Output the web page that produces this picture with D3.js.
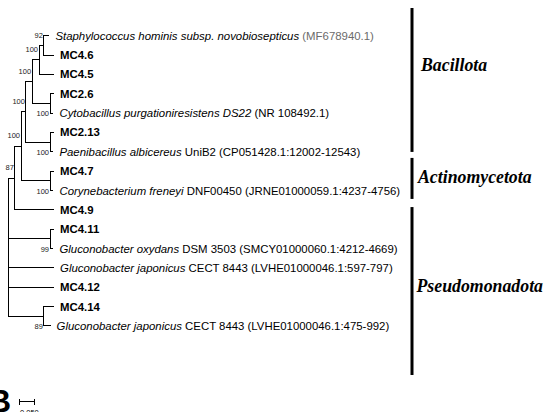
<!DOCTYPE html>
<html><head><meta charset="utf-8">
<script src="https://cdn.jsdelivr.net/npm/d3@7"></script>
<style>html,body{margin:0;padding:0;background:#fff;overflow:hidden} text{white-space:pre}</style>
</head><body><svg id="c" width="546" height="412"></svg>
<script>
// ---- data: tree as parent table ----
const nodeIds = ["root","n87","n100d","n100c","n100b","n100a","n92","staph","MC4.6","MC4.5","n26","MC2.6","cyto","n213","MC2.13","paeni","n47","MC4.7","coryne","MC4.9","n411","MC4.11","oxydans","jap597","MC4.12","n89","MC4.14","jap475"];
const parentIds = ["","root","n87","n100d","n100c","n100b","n100a","n92","n92","n100a","n100b","n26","n26","n100c","n213","n213","n100d","n47","n47","n87","root","n411","n411","root","root","root","n89","n89"];
const branchLengths = [0,0.024,0.021,0.017,0.021,0.024,0.017,0.017,0.033,0.050,0.062,0.012,0.010,0.083,0.012,0.010,0.100,0.012,0.010,0.133,0.145,0.012,0.010,0.157,0.157,0.124,0.033,0.021];
const bootstrap = [null,87,100,100,100,100,92,null,null,null,100,null,null,100,null,null,100,null,null,null,99,null,null,null,null,89,null,null];

// reference sequences: taxon name (italic) + strain / accession (plain)
const refIds   = ["staph","cyto","paeni","coryne","oxydans","jap597","jap475"];
const refTaxa  = ["Staphylococcus hominis subsp. novobiosepticus","Cytobacillus purgationiresistens DS22","Paenibacillus albicereus","Corynebacterium freneyi","Gluconobacter oxydans","Gluconobacter japonicus","Gluconobacter japonicus"];
const refNotes = [" (MF678940.1)"," (NR 108492.1)"," UniB2 (CP051428.1:12002-12543)"," DNF00450 (JRNE01000059.1:4237-4756)"," DSM 3503 (SMCY01000060.1:4212-4669)"," CECT 8443 (LVHE01000046.1:597-797)"," CECT 8443 (LVHE01000046.1:475-992)"];

const cladeNames = ["Bacillota","Actinomycetota","Pseudomonadota"];
const scaleBarValue = 0.05;
const scaleBarLabel = "0.050";

// ---- layout ----
const svg = d3.select("#c");
const rows = d3.range(nodeIds.length).map(i => ({id:nodeIds[i], parent:parentIds[i], len:branchLengths[i], bs:bootstrap[i]}));
const root = d3.stratify().id(d=>d.id).parentId(d=>d.parent||null)(rows);

const x = d3.scaleLinear().domain([0, 0.05]).range([8, 22.5]);
const y = d3.scaleLinear().domain([1, 14]).range([55, 306.5]);

root.each(n => { n.depthLen = (n.parent ? n.parent.depthLen : 0) + n.data.len; });
root.leaves().forEach((l,i) => { l.row = i; });
root.eachAfter(n => {
  if (n.children) n.yy = (n.children[0].yy + n.children[n.children.length-1].yy)/2;
  else n.yy = y(n.row);
  n.xx = x(n.depthLen);
});

const g = svg.append("g");
const lines = [];
root.each(n => {
  if (n.parent) lines.push([n.parent.xx, n.yy, n.xx, n.yy]);
  if (n.children) lines.push([n.xx, n.children[0].yy, n.xx, n.children[n.children.length-1].yy]);
});
g.selectAll("line.br").data(lines).join("line").attr("class","br")
  .attr("x1",d=>d[0]).attr("y1",d=>d[1]).attr("x2",d=>d[2]).attr("y2",d=>d[3])
  .attr("stroke","#000").attr("stroke-width",1).attr("stroke-linecap","square").attr("shape-rendering","crispEdges");

// leaf labels
const refIndex = new Map(refIds.map((id,i)=>[id,i]));
root.leaves().forEach(l => {
  const t = g.append("text").attr("x", l.xx + 6.5).attr("y", l.yy).attr("dy","0.36em")
    .attr("font-family","'Liberation Sans', Arial, sans-serif").attr("font-size",11.4).attr("fill","#000");
  if (refIndex.has(l.id)) {
    const k = refIndex.get(l.id);
    t.append("tspan").attr("font-style","italic").text(refTaxa[k]);
    t.append("tspan").attr("fill", l.id==="staph" ? "#6b6b6b" : "#000").text(refNotes[k]);
  } else {
    t.attr("font-weight","bold").text(l.id);
  }
});

// bootstrap values
const belowNodes = new Set(["n26","n213","n47","n411","n89"]);
root.descendants().filter(n=>n.data.bs!=null).forEach(n => {
  const below = belowNodes.has(n.id);
  g.append("text").attr("x", n.xx - 1)
    .attr("y", below ? n.children[n.children.length-1].yy + 0.5 : n.yy - 10.5)
    .attr("dy","0.36em").attr("text-anchor","end")
    .attr("font-family","'Liberation Sans', Arial, sans-serif").attr("font-size",7.5).attr("fill","#222")
    .text(n.data.bs);
});

// clade bars (spans in row units)
const cladeSpans = [[-1.43, 6.01], [6.32, 8.44], [8.86, 17.54]];
const cladeLabelRows = [1.52, 7.3, 12.94];
const barX = 412;
cladeNames.forEach((name,i) => {
  svg.append("line").attr("x1",barX).attr("x2",barX)
    .attr("y1", y(cladeSpans[i][0])).attr("y2", y(cladeSpans[i][1]))
    .attr("stroke","#000").attr("stroke-width",3);
  svg.append("text").attr("x", barX + (i===0?9:(i===1?6:4.5))).attr("y", y(cladeLabelRows[i])).attr("dy","0.35em")
    .attr("font-family","'Liberation Serif','Times New Roman',serif").attr("font-weight","bold").attr("font-style","italic")
    .attr("font-size",17.8).attr("fill","#000").text(name);
});

// scale bar
const sbX = 19.5, sbY = 401.5, sbW = x(scaleBarValue) - x(0);
svg.append("path").attr("d", `M${sbX},${sbY}H${sbX+sbW}M${sbX},${sbY-3}V${sbY+3}M${sbX+sbW},${sbY-3}V${sbY+3}`)
  .attr("stroke","#000").attr("stroke-width",1).attr("fill","none").attr("shape-rendering","crispEdges");
svg.append("text").attr("x", sbX + 0.5).attr("y", 415).attr("font-family","'Liberation Sans', Arial, sans-serif")
  .attr("font-size",7.5).attr("fill","#000").text(scaleBarLabel);

// panel letter
svg.append("text").attr("x", -12).attr("y", 412).attr("font-family","'Liberation Sans', Arial, sans-serif")
  .attr("font-weight","bold").attr("font-size",32).attr("fill","#000").text("B");
</script></body></html>
